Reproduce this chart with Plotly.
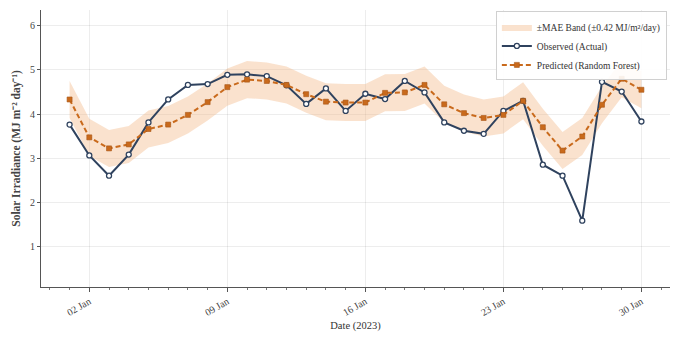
import plotly.graph_objects as go
import pandas as pd

# Daily solar irradiance, January 2023
dates = pd.date_range("2023-01-01", "2023-01-30", freq="D")

observed = [3.76, 3.06, 2.60, 3.08, 3.81, 4.33, 4.66, 4.68, 4.89, 4.90,
            4.86, 4.65, 4.23, 4.58, 4.07, 4.46, 4.34, 4.75, 4.49, 3.81,
            3.62, 3.55, 4.07, 4.30, 2.85, 2.60, 1.58, 4.73, 4.51, 3.83]

predicted = [4.33, 3.47, 3.22, 3.31, 3.66, 3.76, 3.98, 4.27, 4.61, 4.78,
             4.75, 4.66, 4.45, 4.28, 4.26, 4.26, 4.48, 4.49, 4.66, 4.22,
             4.02, 3.91, 3.98, 4.30, 3.70, 3.17, 3.49, 4.21, 4.80, 4.55]

mae = 0.42
major_ticks = ["2023-01-02", "2023-01-09", "2023-01-16", "2023-01-23", "2023-01-30"]
y_ticks = [1, 2, 3, 4, 5, 6]

upper = [p + mae for p in predicted]
lower = [p - mae for p in predicted]

FONT = "Liberation Serif"
NAVY = "#2f425e"
ORANGE = "#c96a1c"

fig = go.Figure()

fig.add_trace(go.Scatter(
    x=dates, y=lower, mode="lines", line=dict(width=0, color="rgba(0,0,0,0)"),
    showlegend=False, hoverinfo="skip"))
fig.add_trace(go.Scatter(
    x=dates, y=upper, mode="lines", line=dict(width=0, color="rgba(0,0,0,0)"),
    fill="tonexty", fillcolor="rgba(242,180,125,0.38)",
    name="±MAE Band (±0.42 MJ/m²/day)"))
fig.add_trace(go.Scatter(
    x=dates, y=observed, mode="lines+markers", name="Observed (Actual)",
    line=dict(color=NAVY, width=2),
    marker=dict(symbol="circle", size=5, color="white",
                line=dict(color=NAVY, width=1.3))))
fig.add_trace(go.Scatter(
    x=dates, y=predicted, mode="lines+markers", name="Predicted (Random Forest)",
    line=dict(color=ORANGE, width=2, dash="5px,3px"),
    marker=dict(symbol="square", size=5, color=ORANGE,
                line=dict(color="#a85515", width=0.6))))

x0 = pd.Timestamp("2023-01-01") - pd.Timedelta(hours=1.45 * 24)
x1 = pd.Timestamp("2023-01-30") + pd.Timedelta(hours=1.45 * 24)

fig.update_layout(
    width=675, height=338,
    margin=dict(l=41, r=5, t=10, b=51),
    paper_bgcolor="white", plot_bgcolor="white",
    font=dict(family=FONT, size=10, color="#333"),
    legend=dict(
        x=0.995, y=0.995, xanchor="right", yanchor="top",
        traceorder="normal",
        bgcolor="rgba(255,255,255,0.9)", bordercolor="#d0d0d0", borderwidth=1,
        font=dict(family=FONT, size=9.5, color="#333"),
        tracegroupgap=0, itemwidth=30),
    showlegend=True,
)

fig.update_xaxes(
    type="date", range=[x0, x1],
    tickvals=list(pd.to_datetime(major_ticks)), tickformat="%d %b",
    tickangle=-30, tickfont=dict(family=FONT, size=10, color="#444"),
    ticks="outside", ticklen=4, tickcolor="#555",
    showline=True, linecolor="#555", linewidth=1,
    showgrid=True, gridcolor="rgba(0,0,0,0.07)", gridwidth=1,
    zeroline=False,
    minor=dict(dtick=86400000, tick0="2023-01-01", ticks="outside",
               ticklen=2, tickcolor="#777", showgrid=False),
    title=dict(text="Date (2023)", font=dict(family=FONT, size=10.5, color="#333"),
               standoff=4),
)

fig.update_yaxes(
    range=[0.075, 6.36],
    tickvals=y_ticks, tickfont=dict(family=FONT, size=10, color="#444"),
    ticks="outside", ticklen=3, tickcolor="#555",
    showline=True, linecolor="#555", linewidth=1,
    showgrid=True, gridcolor="rgba(0,0,0,0.07)", gridwidth=1,
    zeroline=False,
    title=dict(text="<b>Solar Irradiance (MJ m⁻² day⁻¹)</b>",
               font=dict(family=FONT, size=11.5, color="#444"), standoff=6),
)

fig.write_html("out.html")
